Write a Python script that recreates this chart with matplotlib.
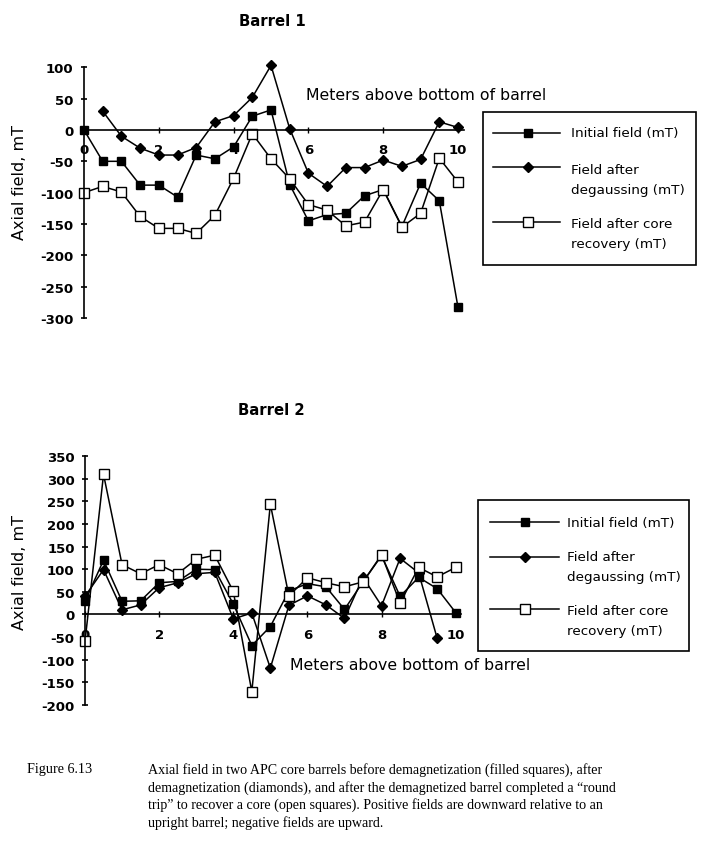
import matplotlib
matplotlib.use("Agg")
import matplotlib.pyplot as plt
from matplotlib.lines import Line2D
from matplotlib.patches import Rectangle

# ---- data ----
depth = [0.0, 0.5, 1.0, 1.5, 2.0, 2.5, 3.0, 3.5, 4.0, 4.5, 5.0,
         5.5, 6.0, 6.5, 7.0, 7.5, 8.0, 8.5, 9.0, 9.5, 10.0]

b1_initial = [0, -50, -50, -88, -88, -107, -40, -46, -27, 22, 32,
              -87, -145, -135, -133, -105, -95, -154, -85, -113, -283]
b1_degauss_depth = depth[1:]
b1_degauss = [30, -10, -29, -40, -40, -28, 13, 23, 52, 103,
              2, -69, -90, -60, -60, -48, -58, -47, 13, 4]
b1_recovery = [-100, -90, -99, -138, -157, -157, -165, -136, -77, -6, -46,
               -78, -119, -128, -153, -147, -95, -155, -133, -45, -83]

b2_initial = [29, 120, 29, 30, 70, 73, 100, 99, 23, -69, -27,
              52, 68, 61, 11, 72, 130, 40, 82, 57, 4]
b2_degauss_depth = depth[:-1]
b2_degauss = [40, 99, 10, 21, 59, 70, 90, 93, -10, 3, -119,
              20, 41, 21, -9, 82, 19, 124, 92, -53]
b2_recovery = [-60, 310, 110, 90, 110, 90, 122, 131, 51, -171, 244,
               41, 81, 70, 61, 72, 132, 25, 104, 83, 104]

x_ticks = [0, 2, 4, 6, 8, 10]
b1_yticks = [100, 50, 0, -50, -100, -150, -200, -250, -300]
b2_yticks = [350, 300, 250, 200, 150, 100, 50, 0, -50, -100, -150, -200]

legend_labels = [["Initial field (mT)"],
                 ["Field after", "degaussing (mT)"],
                 ["Field after core", "recovery (mT)"]]

caption_head = "Figure 6.13"
caption_lines = [
    "Axial field in two APC core barrels before demagnetization (filled squares), after",
    "demagnetization (diamonds), and after the demagnetized barrel completed a \u201cround",
    "trip\u201d to recover a core (open squares). Positive fields are downward relative to an",
    "upright barrel; negative fields are upward.",
]

W, H = 720, 853
XMAX = 10.15

styles = [
    dict(marker="s", markersize=6, color="black", mfc="black"),
    dict(marker="D", markersize=5.5, color="black", mfc="black"),
    dict(marker="s", markersize=6.5, color="black", mfc="white", mew=1.0),
]


def fx(px):
    return px / W


def fy(py):
    return 1 - py / H


def make_axes(fig, left, top, bottom, xscale):
    right = left + XMAX * xscale
    ax = fig.add_axes([fx(left), fy(bottom), fx(right - left), (bottom - top) / H])
    ax.patch.set_alpha(0)
    for side in ("top", "right"):
        ax.spines[side].set_visible(False)
    ax.spines["bottom"].set_position(("data", 0))
    ax.spines["left"].set_linewidth(1.2)
    ax.spines["bottom"].set_linewidth(1.2)
    ax.set_xlim(0, XMAX)
    ax.set_xticks(x_ticks)
    ax.set_xticklabels([str(t) for t in x_ticks], fontsize=9.5, fontweight="bold")
    ax.tick_params(axis="x", direction="inout", length=5, width=1, pad=7)
    ax.tick_params(axis="y", direction="inout", length=5, width=1.2, pad=5,
                   labelsize=9.5)
    return ax


def draw_series(ax, series):
    for (xs, ys), st in zip(series, styles):
        ax.plot(xs, ys, lw=1.1, clip_on=False, **st)


def draw_legend(fig, box, hx0, hx1, hxm, tx, rows):
    x0, y0, x1, y1 = box
    fig.add_artist(Rectangle((fx(x0), fy(y1)), fx(x1 - x0), (y1 - y0) / H,
                             transform=fig.transFigure, fill=False,
                             edgecolor="black", lw=1.2))
    for (hy, text_ys), labels, st in zip(rows, legend_labels, styles):
        fig.add_artist(Line2D([fx(hx0), fx(hx1)], [fy(hy), fy(hy)],
                              transform=fig.transFigure, color="black", lw=1.1))
        fig.add_artist(Line2D([fx(hxm)], [fy(hy)], transform=fig.transFigure,
                              linestyle="none", **st))
        for ty, lab in zip(text_ys, labels):
            fig.text(fx(tx), fy(ty), lab, fontsize=9.7, va="center", ha="left")


fig = plt.figure(figsize=(W / 100, H / 100), dpi=100)
fig.patch.set_facecolor("white")

# ---- Barrel 1 ----
ax1 = make_axes(fig, 84, 68.3, 319, 37.4)
ax1.set_ylim(-300, 100)
ax1.set_yticks(b1_yticks)
ax1.set_yticklabels([str(t) for t in b1_yticks], fontweight="bold")
draw_series(ax1, [(depth, b1_initial), (b1_degauss_depth, b1_degauss),
                  (depth, b1_recovery)])
fig.text(fx(272), fy(22), "Barrel 1", fontsize=10.7, fontweight="bold",
         ha="center", va="center")
fig.text(fx(306), fy(96), "Meters above bottom of barrel", fontsize=11.3,
         ha="left", va="center")
fig.text(fx(20), fy(182), "Axial field, mT", fontsize=11.5, rotation=90,
         ha="center", va="center")
draw_legend(fig, (483, 113, 696, 266), 493, 560, 528, 571,
            [(134, [134]), (168, [170, 191]), (223, [225, 245])])

# ---- Barrel 2 ----
ax2 = make_axes(fig, 85, 457.3, 705.7, 37.07)
ax2.set_ylim(-200, 350)
ax2.set_yticks(b2_yticks)
ax2.set_yticklabels([str(t) for t in b2_yticks], fontweight="bold")
draw_series(ax2, [(depth, b2_initial), (b2_degauss_depth, b2_degauss),
                  (depth, b2_recovery)])
fig.text(fx(271), fy(411), "Barrel 2", fontsize=10.7, fontweight="bold",
         ha="center", va="center")
fig.text(fx(290), fy(666), "Meters above bottom of barrel", fontsize=11.3,
         ha="left", va="center")
fig.text(fx(20), fy(573), "Axial field, mT", fontsize=11.5, rotation=90,
         ha="center", va="center")
draw_legend(fig, (478, 501, 689, 652), 490, 559, 525, 567,
            [(523, [523]), (558, [558, 578]), (610, [612, 632])])

# ---- caption ----
fig.text(fx(27), fy(770), caption_head, fontsize=10.2, family="Liberation Serif",
         ha="left", va="center")
for i, line in enumerate(caption_lines):
    fig.text(fx(148), fy(770 + 17.7 * i), line, fontsize=10.1,
             family="Liberation Serif", ha="left", va="center")

fig.savefig("out.png", dpi=100, facecolor="white")
